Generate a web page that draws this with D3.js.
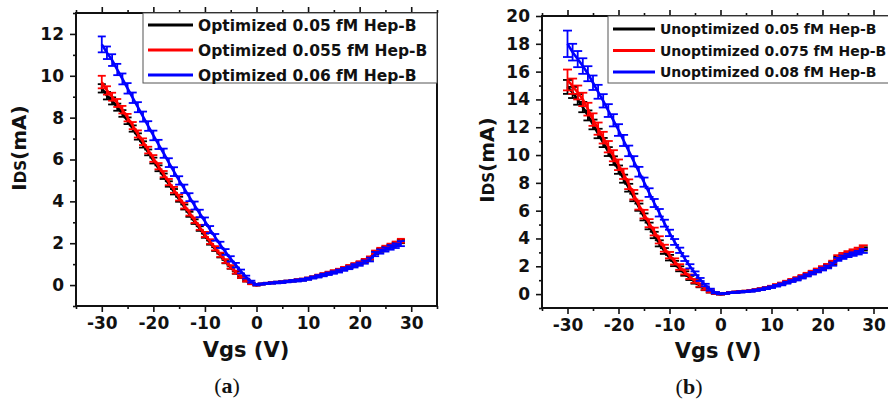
<!DOCTYPE html>
<html>
<head>
<meta charset="UTF-8">
<title>IDS vs Vgs</title>
<style>
  body { margin: 0; background: #fff; }
  svg text { font-family: "DejaVu Sans", Arial, sans-serif; font-weight: bold; fill: #111; }
  .caption { font-family: "Liberation Serif", "DejaVu Serif", serif; font-weight: normal; }
</style>
</head>
<body>
<svg id="chart" width="888" height="403"></svg>
<script src="https://d3js.org/d3.v7.min.js"></script>
<script>
// gate voltage (V)
const vgs = [-30,-29,-28,-27,-26,-25,-24,-23,-22,-21,-20,-19,-18,-17,-16,-15,-14,-13,-12,-11,
  -10,-9,-8,-7,-6,-5,-4,-3,-2,-1,0,1,2,3,4,5,6,7,8,9,10,11,12,13,14,15,16,17,18,19,20,
  21,22,23,24,25,26,27,28];

// (a) optimized, IDS in mA
const optBlack = [9.4,9.05,8.8,8.5,8.2,7.85,7.48,7.1,6.72,6.34,5.95,5.58,5.2,4.83,4.46,4.1,3.73,3.38,3.03,2.7,
  2.36,2.03,1.72,1.41,1.12,0.85,0.6,0.39,0.21,0.08,0.0,
  0.05,0.08,0.11,0.13,0.15,0.18,0.2,0.23,0.26,0.31,0.37,0.44,0.5,0.57,0.64,0.71,0.79,0.87,0.96,1.05,
  1.15,1.27,1.54,1.66,1.76,1.86,1.95,2.08];
const optRed = [9.7,9.3,9.0,8.7,8.38,8.0,7.62,7.22,6.85,6.45,6.05,5.68,5.3,4.92,4.55,4.18,3.8,3.45,3.1,2.76,
  2.42,2.08,1.76,1.45,1.15,0.87,0.62,0.4,0.22,0.08,0.0,
  0.05,0.09,0.11,0.13,0.15,0.18,0.21,0.24,0.27,0.32,0.38,0.45,0.52,0.59,0.66,0.73,0.81,0.9,0.99,1.08,
  1.18,1.3,1.58,1.7,1.8,1.9,2.0,2.12];
const optBlue = [11.5,11.1,10.75,10.3,9.85,9.4,8.95,8.5,8.05,7.6,7.15,6.72,6.3,5.85,5.42,5.0,4.6,4.2,3.8,3.42,
  3.05,2.65,2.28,1.92,1.58,1.25,0.95,0.65,0.38,0.16,0.02,
  0.05,0.08,0.1,0.12,0.14,0.17,0.2,0.22,0.25,0.3,0.36,0.42,0.48,0.54,0.6,0.67,0.75,0.83,0.92,1.0,
  1.1,1.22,1.48,1.6,1.7,1.8,1.88,1.98];
const optBlackErr = [0.2,0.18,0.17,0.17,0.16,0.16,0.15,0.15,0.15,0.14,0.14,0.14,0.13,0.13,0.13,0.12,0.12,0.12,0.11,0.11,
  0.1,0.1,0.09,0.09,0.08,0.07,0.06,0.05,0.04,0.03,0.02,
  0.02,0.02,0.03,0.03,0.03,0.03,0.03,0.04,0.04,0.04,0.04,0.04,0.05,0.05,0.05,0.05,0.05,0.06,0.06,0.06,
  0.06,0.06,0.07,0.07,0.07,0.07,0.08,0.08];
const optRedErr = [0.3,0.2,0.19,0.19,0.18,0.18,0.17,0.17,0.16,0.16,0.16,0.15,0.15,0.15,0.14,0.14,0.14,0.13,0.13,0.12,
  0.12,0.11,0.1,0.1,0.09,0.08,0.07,0.06,0.05,0.04,0.02,
  0.02,0.02,0.03,0.03,0.03,0.03,0.03,0.04,0.04,0.04,0.04,0.05,0.05,0.05,0.05,0.05,0.06,0.06,0.06,0.06,
  0.07,0.07,0.07,0.08,0.08,0.08,0.08,0.09];
const optBlueErr = [0.38,0.3,0.28,0.27,0.26,0.25,0.25,0.24,0.24,0.23,0.23,0.22,0.22,0.21,0.21,0.2,0.2,0.19,0.19,0.18,
  0.18,0.17,0.16,0.15,0.14,0.13,0.11,0.09,0.07,0.05,0.03,
  0.03,0.03,0.03,0.04,0.04,0.04,0.04,0.05,0.05,0.05,0.05,0.06,0.06,0.06,0.06,0.07,0.07,0.07,0.08,0.08,
  0.08,0.09,0.1,0.1,0.1,0.11,0.11,0.12];

// (b) unoptimized, IDS in mA
const unoptBlack = [14.9,14.5,14.0,13.45,12.85,12.2,11.55,10.9,10.25,9.6,8.95,8.3,7.65,6.95,6.25,5.55,4.9,4.25,3.65,3.1,
  2.62,2.2,1.82,1.48,1.16,0.88,0.6,0.37,0.18,0.06,0.0,
  0.05,0.11,0.14,0.17,0.2,0.24,0.3,0.36,0.44,0.53,0.63,0.74,0.86,0.98,1.1,1.25,1.4,1.55,1.7,1.86,
  2.02,2.22,2.6,2.75,2.88,3.0,3.1,3.25];
const unoptRed = [15.4,14.95,14.5,14.0,13.3,12.55,11.9,11.25,10.6,9.95,9.3,8.65,7.9,7.15,6.4,5.75,5.1,4.5,3.9,3.3,
  2.8,2.35,1.95,1.6,1.25,0.95,0.65,0.4,0.2,0.07,0.0,
  0.06,0.12,0.15,0.18,0.21,0.25,0.31,0.38,0.46,0.55,0.66,0.77,0.9,1.02,1.15,1.3,1.45,1.6,1.76,1.92,
  2.08,2.3,2.7,2.85,2.98,3.1,3.22,3.38];
const unoptBlue = [18.0,17.4,16.9,16.4,15.85,15.2,14.55,13.9,13.2,12.5,11.8,11.05,10.3,9.55,8.8,8.05,7.3,6.55,5.85,5.1,
  4.4,3.75,3.15,2.55,2.0,1.5,1.05,0.65,0.32,0.1,0.02,
  0.05,0.1,0.13,0.16,0.19,0.22,0.28,0.34,0.42,0.5,0.6,0.7,0.82,0.94,1.06,1.2,1.35,1.5,1.65,1.8,
  1.95,2.15,2.5,2.65,2.78,2.88,2.98,3.1];
const unoptBlackErr = [0.5,0.4,0.38,0.37,0.36,0.35,0.34,0.33,0.32,0.31,0.3,0.29,0.28,0.27,0.26,0.25,0.24,0.23,0.22,0.21,
  0.2,0.19,0.18,0.16,0.15,0.13,0.11,0.09,0.07,0.05,0.03,
  0.03,0.03,0.03,0.04,0.04,0.04,0.04,0.05,0.05,0.05,0.05,0.06,0.06,0.06,0.07,0.07,0.07,0.08,0.08,0.08,
  0.09,0.09,0.1,0.1,0.1,0.11,0.11,0.12];
const unoptRedErr = [0.75,0.55,0.5,0.48,0.46,0.45,0.44,0.42,0.41,0.4,0.38,0.37,0.35,0.34,0.32,0.31,0.29,0.28,0.26,0.25,
  0.23,0.22,0.2,0.18,0.16,0.14,0.12,0.1,0.08,0.06,0.03,
  0.03,0.03,0.04,0.04,0.04,0.04,0.05,0.05,0.05,0.05,0.06,0.06,0.06,0.07,0.07,0.07,0.08,0.08,0.08,0.09,
  0.09,0.1,0.1,0.11,0.11,0.12,0.12,0.13];
const unoptBlueErr = [0.95,0.6,0.58,0.56,0.54,0.52,0.5,0.48,0.46,0.44,0.42,0.4,0.38,0.37,0.35,0.33,0.31,0.29,0.27,0.25,
  0.23,0.21,0.19,0.17,0.15,0.13,0.11,0.09,0.07,0.05,0.03,
  0.03,0.03,0.04,0.04,0.04,0.05,0.05,0.05,0.06,0.06,0.06,0.07,0.07,0.07,0.08,0.08,0.08,0.09,0.09,0.1,
  0.1,0.11,0.11,0.12,0.12,0.13,0.13,0.14];

const legendA = ["Optimized 0.05 fM Hep-B", "Optimized 0.055 fM Hep-B", "Optimized 0.06 fM Hep-B"];
const legendB = ["Unoptimized 0.05 fM Hep-B", "Unoptimized 0.075 fM Hep-B", "Unoptimized 0.08 fM Hep-B"];
const colors = ["#000000", "#ff0000", "#0000ff"];

const xTicks = [-30, -20, -10, 0, 10, 20, 30];
const xMinor = [-35, -25, -15, -5, 5, 15, 25, 35];
const yTicksA = [0, 2, 4, 6, 8, 10, 12];
const yMinorA = [-1, 1, 3, 5, 7, 9, 11, 13];
const yTicksB = [0, 2, 4, 6, 8, 10, 12, 14, 16, 18, 20];
const yMinorB = [-1, 1, 3, 5, 7, 9, 11, 13, 15, 17, 19];

const svg = d3.select("#chart");

function styleAxis(sel, size) {
  sel.select(".domain").remove();
  sel.selectAll("line").attr("stroke", "#111").attr("stroke-width", 1.6);
  sel.attr("font-family", null).attr("font-size", null);
  sel.selectAll("text").attr("font-size", size).attr("fill", "#111");
}

function drawPanel(p) {
  const g = svg.append("g");
  const x = d3.scaleLinear().domain([-35, 35]).range([p.left, p.right]);
  const y = d3.scaleLinear().domain(p.yDomain).range([p.bottom, p.top]);
  const plain = (d) => String(d); // keep the ascii hyphen like the original

  // ticks
  g.append("g").attr("transform", `translate(0,${p.bottom})`)
    .call(d3.axisBottom(x).tickValues(xTicks).tickSize(6).tickPadding(5).tickFormat(plain))
    .call(styleAxis, p.tickFont);
  g.append("g").attr("transform", `translate(0,${p.bottom})`)
    .call(d3.axisBottom(x).tickValues(xMinor).tickSize(3).tickFormat(""))
    .call(styleAxis, p.tickFont);
  g.append("g").attr("transform", `translate(0,${p.top})`)
    .call(d3.axisTop(x).tickValues(xTicks).tickSize(6).tickFormat(""))
    .call(styleAxis, p.tickFont);
  g.append("g").attr("transform", `translate(0,${p.top})`)
    .call(d3.axisTop(x).tickValues(xMinor).tickSize(3).tickFormat(""))
    .call(styleAxis, p.tickFont);
  g.append("g").attr("transform", `translate(${p.left},0)`)
    .call(d3.axisLeft(y).tickValues(p.yTicks).tickSize(6).tickPadding(6).tickFormat(plain))
    .call(styleAxis, p.tickFont);
  g.append("g").attr("transform", `translate(${p.left},0)`)
    .call(d3.axisLeft(y).tickValues(p.yMinor).tickSize(3).tickFormat(""))
    .call(styleAxis, p.tickFont);

  // frame
  g.append("rect")
    .attr("x", p.left).attr("y", p.top)
    .attr("width", p.right - p.left).attr("height", p.bottom - p.top)
    .attr("fill", "none").attr("stroke", "#111").attr("stroke-width", 2);

  // legend
  g.append("rect")
    .attr("x", p.legX).attr("y", p.top)
    .attr("width", p.legW).attr("height", p.legH)
    .attr("fill", "#fff").attr("stroke", "#555").attr("stroke-width", 1);
  p.labels.forEach((lab, i) => {
    const ly = p.legY0 + i * p.legStep;
    g.append("line")
      .attr("x1", p.legX + 5).attr("x2", p.legX + 5 + p.legLine)
      .attr("y1", ly).attr("y2", ly)
      .attr("stroke", colors[i]).attr("stroke-width", 3);
    g.append("text")
      .attr("x", p.legX + 10 + p.legLine).attr("y", ly + p.legFont * 0.36)
      .attr("font-size", p.legFont)
      .text(lab);
  });

  // series, with error bars
  const line = d3.line().x((d) => x(d.v)).y((d) => y(d.i));
  p.series.forEach((s, k) => {
    const pts = vgs.map((v, j) => ({ v: v, i: s.values[j], e: s.errors[j] }));
    const sg = g.append("g").attr("stroke", colors[k]).attr("fill", "none");
    sg.append("path").attr("d", line(pts)).attr("stroke-width", 2.6);
    const bars = sg.selectAll("g.err").data(pts).enter().append("g").attr("class", "err")
      .attr("stroke-width", 1.8);
    bars.append("line")
      .attr("x1", (d) => x(d.v)).attr("x2", (d) => x(d.v))
      .attr("y1", (d) => y(d.i - d.e)).attr("y2", (d) => y(d.i + d.e));
    bars.append("line")
      .attr("x1", (d) => x(d.v) - p.cap).attr("x2", (d) => x(d.v) + p.cap)
      .attr("y1", (d) => y(d.i + d.e)).attr("y2", (d) => y(d.i + d.e));
    bars.append("line")
      .attr("x1", (d) => x(d.v) - p.cap).attr("x2", (d) => x(d.v) + p.cap)
      .attr("y1", (d) => y(d.i - d.e)).attr("y2", (d) => y(d.i - d.e));
  });

  // axis titles
  g.append("text")
    .attr("x", p.xTitle[0]).attr("y", p.xTitle[1])
    .attr("text-anchor", "middle").attr("font-size", p.xTitleFont)
    .text("Vgs (V)");
  const yt = g.append("text")
    .attr("transform", `translate(${p.yTitle[0]},${p.yTitle[1]}) rotate(-90)`)
    .attr("text-anchor", "middle").attr("font-size", 20);
  yt.append("tspan").text("I");
  yt.append("tspan").attr("font-size", 15).text("DS");
  yt.append("tspan").text("(mA)");

  // caption
  const cap = g.append("text").attr("class", "caption")
    .attr("x", p.caption[0]).attr("y", p.caption[1])
    .attr("text-anchor", "middle").attr("font-size", 22);
  cap.append("tspan").text("(");
  cap.append("tspan").attr("font-weight", "bold").text(p.letter);
  cap.append("tspan").text(")");
}

drawPanel({
  left: 76, right: 437, top: 13, bottom: 306,
  yDomain: [-1, 13], yTicks: yTicksA, yMinor: yMinorA,
  tickFont: 17,
  series: [
    { values: optBlack, errors: optBlackErr },
    { values: optRed, errors: optRedErr },
    { values: optBlue, errors: optBlueErr }
  ],
  labels: legendA,
  legX: 143, legW: 294, legH: 70, legY0: 25, legStep: 25, legLine: 45, legFont: 15.5,
  cap: 4,
  xTitle: [246, 357], xTitleFont: 21, yTitle: [26, 148], caption: [227, 393], letter: "a"
});

drawPanel({
  left: 542, right: 899, top: 16, bottom: 308,
  yDomain: [-1, 20], yTicks: yTicksB, yMinor: yMinorB,
  tickFont: 17,
  series: [
    { values: unoptBlack, errors: unoptBlackErr },
    { values: unoptRed, errors: unoptRedErr },
    { values: unoptBlue, errors: unoptBlueErr }
  ],
  labels: legendB,
  legX: 608, legW: 300, legH: 67, legY0: 29, legStep: 21.5, legLine: 42, legFont: 14,
  cap: 4.5,
  xTitle: [718, 358], xTitleFont: 21, yTitle: [494, 160], caption: [689, 394], letter: "b"
});
</script>
</body>
</html>
